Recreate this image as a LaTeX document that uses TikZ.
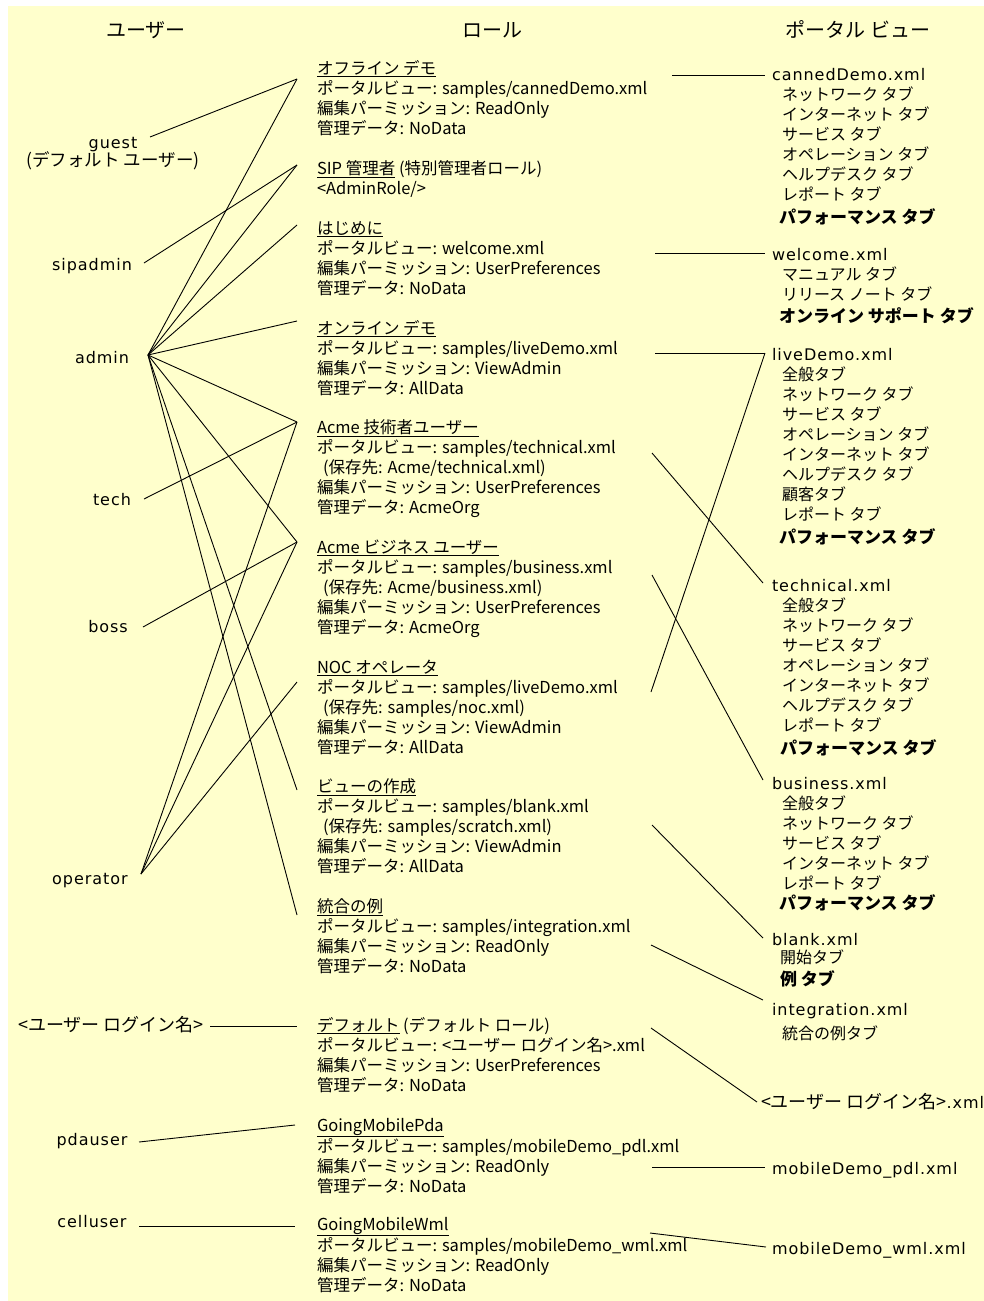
\documentclass[tikz,border=0pt]{standalone}
\usepackage{fontspec}
\setmainfont{Noto Sans CJK JP}
\newfontfamily\lat{DejaVu Sans}[LetterSpace=6.0]
\definecolor{bgyellow}{RGB}{255,255,204}
\tikzset{
  txt/.style={inner sep=0pt, outer sep=0pt, font=\fontsize{16}{20}\selectfont, align=left, anchor=north west},
  roletxt/.style={txt, font=\fontsize{16.5}{20}\selectfont},
  ctxt/.style={inner sep=0pt, outer sep=0pt, font=\fontsize{16}{20}\selectfont, anchor=base},
  usertxt/.style={ctxt, font=\fontsize{16}{20}\selectfont\lat},
  userjp/.style={ctxt, font=\fontsize{18}{20}\selectfont},
  head/.style={ctxt, font=\fontsize{20}{24}\selectfont},
  link/.style={line width=0.9pt, black},
}
\newcommand{\fs}{\rule{0pt}{16pt}}
\newcommand{\bt}[1]{{\fontsize{17}{20}\selectfont\bfseries #1}}
\newcommand{\ind}{\hspace*{10pt}}
\newcommand{\sv}{\hspace*{6pt}}
\newcommand{\xn}[1]{{\lat #1}}
\begin{document}
\begin{tikzpicture}[x=1pt,y=-1pt]
\useasboundingbox (0,0) rectangle (984,1301);
\fill[white] (0,0) rectangle (984,1301);
\fill[bgyellow] (8,6) rectangle (984,1301);

% headers
\node[head] (hU) at (146,37) {ユーザー};
\node[head] (hR) at (492,37) {ロール};
\node[head] (hV) at (858,37) {ポータル ビュー};

% users
\node[txt, align=center, anchor=north] (guest) at (113,132) {\fs\xn{guest}\\[-2pt]{\fontsize{17.5}{20}\selectfont (デフォルト ユーザー)}};
\node[usertxt] (sipadmin) at (92,270) {sipadmin};
\node[usertxt] (admin) at (102,363) {admin};
\node[usertxt] (tech) at (112,505) {tech};
\node[usertxt] (boss) at (108,632) {boss};
\node[usertxt] (operator) at (90,884) {operator};
\node[userjp] (login) at (111,1031) {<ユーザー ログイン名>};
\node[usertxt] (pdauser) at (92,1145) {pdauser};
\node[usertxt] (celluser) at (92,1227) {celluser};

% roles
\node[roletxt] (r1) at (317,58) {\fs\underline{オフライン デモ}\\ポータルビュー: samples/cannedDemo.xml\\編集パーミッション: ReadOnly\\管理データ: NoData};
\node[roletxt] (r2) at (317,158) {\fs\underline{SIP 管理者} (特別管理者ロール)\\<AdminRole/>};
\node[roletxt] (r3) at (317,218) {\fs\underline{はじめに}\\ポータルビュー: welcome.xml\\編集パーミッション: UserPreferences\\管理データ: NoData};
\node[roletxt] (r4) at (317,318) {\fs\underline{オンライン デモ}\\ポータルビュー: samples/liveDemo.xml\\編集パーミッション: ViewAdmin\\管理データ: AllData};
\node[roletxt] (r5) at (317,417) {\fs\underline{Acme 技術者ユーザー}\\ポータルビュー: samples/technical.xml\\\sv(保存先: Acme/technical.xml)\\編集パーミッション: UserPreferences\\管理データ: AcmeOrg};
\node[roletxt] (r6) at (317,537) {\fs\underline{Acme ビジネス ユーザー}\\ポータルビュー: samples/business.xml\\\sv(保存先: Acme/business.xml)\\編集パーミッション: UserPreferences\\管理データ: AcmeOrg};
\node[roletxt] (r7) at (317,657) {\fs\underline{NOC オペレータ}\\ポータルビュー: samples/liveDemo.xml\\\sv(保存先: samples/noc.xml)\\編集パーミッション: ViewAdmin\\管理データ: AllData};
\node[roletxt] (r8) at (317,776) {\fs\underline{ビューの作成}\\ポータルビュー: samples/blank.xml\\\sv(保存先: samples/scratch.xml)\\編集パーミッション: ViewAdmin\\管理データ: AllData};
\node[roletxt] (r9) at (317,896) {\fs\underline{統合の例}\\ポータルビュー: samples/integration.xml\\編集パーミッション: ReadOnly\\管理データ: NoData};
\node[roletxt] (r10) at (317,1015) {\fs\underline{デフォルト} (デフォルト ロール)\\ポータルビュー: <ユーザー ログイン名>.xml\\編集パーミッション: UserPreferences\\管理データ: NoData};
\node[roletxt] (r11) at (317,1115) {\fs\underline{GoingMobilePda}\\ポータルビュー: samples/mobileDemo\_pdl.xml\\編集パーミッション: ReadOnly\\管理データ: NoData};
\node[roletxt] (r12) at (317,1214) {\fs\underline{GoingMobileWml}\\ポータルビュー: samples/mobileDemo\_wml.xml\\編集パーミッション: ReadOnly\\管理データ: NoData};

% portal views
\node[txt] (v1) at (772,64) {\fs\xn{cannedDemo.xml}\\\ind ネットワーク タブ\\\ind インターネット タブ\\\ind サービス タブ\\\ind オペレーション タブ\\\ind ヘルプデスク タブ\\\ind レポート タブ\\[3pt]\hspace*{7pt}\bt{パフォーマンス タブ}};
\node[txt] (v2) at (772,244) {\fs\xn{welcome.xml}\\\ind マニュアル タブ\\\ind リリース ノート タブ\\[2pt]\hspace*{7pt}\bt{オンライン サポート タブ}};
\node[txt] (v3) at (772,344) {\fs\xn{liveDemo.xml}\\\ind 全般タブ\\\ind ネットワーク タブ\\\ind サービス タブ\\\ind オペレーション タブ\\\ind インターネット タブ\\\ind ヘルプデスク タブ\\\ind 顧客タブ\\\ind レポート タブ\\[3pt]\hspace*{7pt}\bt{パフォーマンス タブ}};
\node[txt] (v4) at (772,575) {\fs\xn{technical.xml}\\\ind 全般タブ\\\ind ネットワーク タブ\\\ind サービス タブ\\\ind オペレーション タブ\\\ind インターネット タブ\\\ind ヘルプデスク タブ\\\ind レポート タブ\\[3pt]\hspace*{8pt}\bt{パフォーマンス タブ}};
\node[txt] (v5) at (772,773) {\fs\xn{business.xml}\\\ind 全般タブ\\\ind ネットワーク タブ\\\ind サービス タブ\\\ind インターネット タブ\\\ind レポート タブ\\\hspace*{7pt}\bt{パフォーマンス タブ}};
\node[txt] (v6) at (772,929) {\fs\xn{blank.xml}\\[-2pt]\hspace*{8pt}開始タブ\\[2pt]\hspace*{8pt}\bt{例 タブ}};
\node[txt] (v7) at (772,999) {\fs\xn{integration.xml}\\[4pt]\ind 統合の例タブ};
\node[txt] (v8) at (761,1092) {\fs{\fontsize{18}{20}\selectfont <ユーザー ログイン名>}\xn{.xml}};
\node[txt] (v9) at (772,1158) {\fs\xn{mobileDemo\_pdl.xml}};
\node[txt] (v10) at (772,1238) {\fs\xn{mobileDemo\_wml.xml}};

% connector end points
\coordinate (uG) at (150,137);
\coordinate (uS) at (144,263);
\coordinate (uA) at (148,355);
\coordinate (uT) at (144,499);
\coordinate (uB) at (143,627);
\coordinate (uO) at (141,874);
\coordinate (uL) at (210,1026);
\coordinate (uP) at (139,1142);
\coordinate (uC) at (139,1226);

\coordinate (r1L) at (297,79);
\coordinate (r2L) at (297,165);
\coordinate (r3L) at (297,225);
\coordinate (r4L) at (297,321);
\coordinate (r5L) at (297,422);
\coordinate (r6L) at (297,542);
\coordinate (r7L) at (297,682);
\coordinate (r8L) at (297,790);
\coordinate (r9L) at (297,915);
\coordinate (r10L) at (297,1026);
\coordinate (r11L) at (295,1125);
\coordinate (r12L) at (295,1226);

\coordinate (r1R) at (672,75);
\coordinate (r3R) at (655,253);
\coordinate (r4R) at (655,353);
\coordinate (r5R) at (652,453);
\coordinate (r6R) at (652,575);
\coordinate (r7R) at (651,692);
\coordinate (r8R) at (652,825);
\coordinate (r9R) at (651,945);
\coordinate (r10R) at (651,1028);
\coordinate (r11R) at (652,1167);
\coordinate (r12R) at (650,1233);

\coordinate (v1L) at (765,75);
\coordinate (v2L) at (765,253);
\coordinate (v3L) at (765,353);
\coordinate (v4L) at (763,583);
\coordinate (v5L) at (763,780);
\coordinate (v6L) at (763,938);
\coordinate (v7L) at (763,1000);
\coordinate (v8L) at (757,1102);
\coordinate (v9L) at (765,1167);
\coordinate (v10L) at (766,1247);

% users -> roles
\draw[link] (uG) -- (r1L);
\draw[link] (uS) -- (r2L);
\foreach \r in {r1L,r2L,r3L,r4L,r5L,r6L,r8L,r9L} \draw[link] (uA) -- (\r);
\draw[link] (uT) -- (r5L);
\draw[link] (uB) -- (r6L);
\foreach \r in {r5L,r6L,r7L} \draw[link] (uO) -- (\r);
\draw[link] (uL) -- (r10L);
\draw[link] (uP) -- (r11L);
\draw[link] (uC) -- (r12L);

% roles -> portal views
\draw[link] (r1R) -- (v1L);
\draw[link] (r3R) -- (v2L);
\draw[link] (r4R) -- (v3L);
\draw[link] (r7R) -- (v3L);
\draw[link] (r5R) -- (v4L);
\draw[link] (r6R) -- (v5L);
\draw[link] (r8R) -- (v6L);
\draw[link] (r9R) -- (v7L);
\draw[link] (r10R) -- (v8L);
\draw[link] (r11R) -- (v9L);
\draw[link] (r12R) -- (v10L);
\end{tikzpicture}
\end{document}
